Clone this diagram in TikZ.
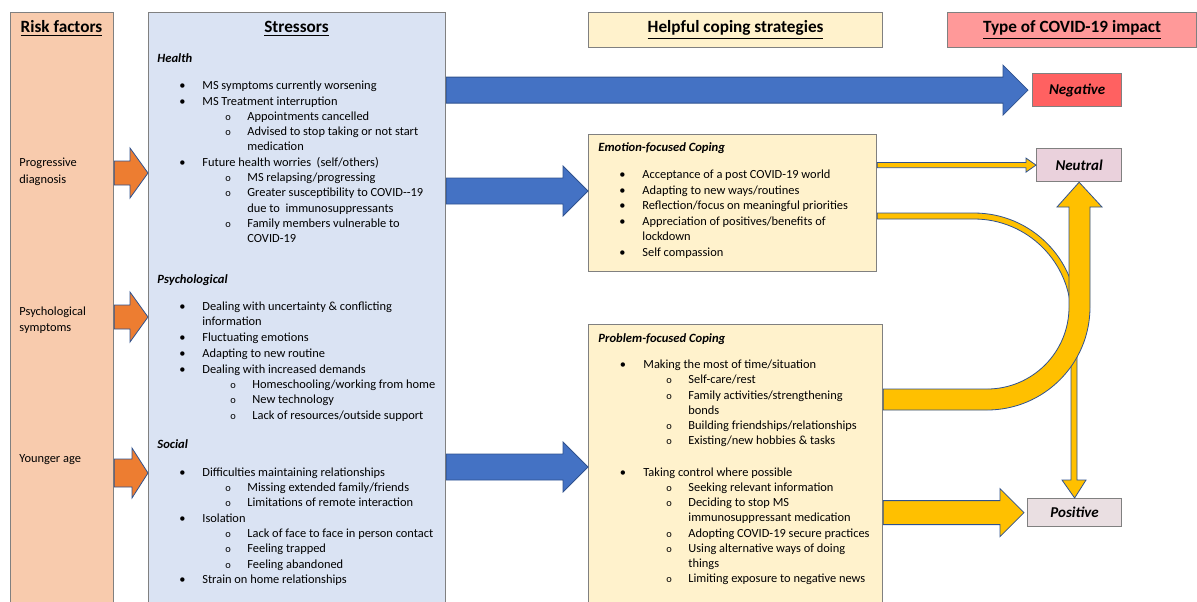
\documentclass[tikz,border=0pt]{standalone}
\usepackage{fontspec}
\setmainfont{Carlito}
\usetikzlibrary{calc}
\definecolor{riskc}{HTML}{F8CBAD}
\definecolor{stressc}{HTML}{DAE3F3}
\definecolor{copec}{HTML}{FFF2CC}
\definecolor{typec}{HTML}{FF9999}
\definecolor{negc}{HTML}{FF6161}
\definecolor{neutc}{HTML}{EAD1DC}
\definecolor{posc}{HTML}{EADFE2}
\definecolor{boxline}{HTML}{808080}
\definecolor{bluec}{HTML}{4472C4}
\definecolor{orangec}{HTML}{ED7D31}
\definecolor{yellowc}{HTML}{FFC000}
\definecolor{arrline}{HTML}{2F528F}

\newcounter{tl}
\newcommand\mytx[3]{\stepcounter{tl}\node[txt] (t\arabic{tl}) at (#1,#2) {#3};}
\newcommand\mybu[2]{\stepcounter{tl}\node[bul] (t\arabic{tl}) at (#1,#2) {\textbullet};}
\newcommand\myci[2]{\stepcounter{tl}\node[cir] (t\arabic{tl}) at (#1,#2) {o};}
\newcommand\StB[2]{\mybu{182.5}{#1}\mytx{202}{#1}{#2}}
\newcommand\StS[2]{\myci{228}{#1}\mytx{247}{#1}{#2}}
\newcommand\StP[2]{\myci{233}{#1}\mytx{252}{#1}{#2}}
\newcommand\EmB[2]{\mybu{622.5}{#1}\mytx{642}{#1}{#2}}
\newcommand\PrB[2]{\mybu{623}{#1}\mytx{643}{#1}{#2}}
\newcommand\PrS[2]{\myci{669}{#1}\mytx{688}{#1}{#2}}
% style, start, tip, body half, head half, head length
\newcommand\HArrow[6]{%
  \path[#1] let \p1=(#2), \p2=(#3) in
  (\x1,\y1+#4) -- (\x2-#6,\y1+#4) -- (\x2-#6,\y1+#5) -- (\x2,\y1) --
  (\x2-#6,\y1-#5) -- (\x2-#6,\y1-#4) -- (\x1,\y1-#4) -- cycle;}

\begin{document}
\begin{tikzpicture}[x=0.5pt,y=-0.5pt,
  txt/.style={anchor=mid west, inner sep=0pt, font=\fontsize{6.2}{7.5}\selectfont},
  bul/.style={anchor=mid, inner sep=0pt, font=\fontsize{6.2}{7.5}\selectfont},
  cir/.style={anchor=mid, inner sep=0pt, font=\fontsize{5.2}{6}\selectfont},
  hd/.style={anchor=mid west, inner sep=0pt, font=\fontsize{6.3}{7.5}\selectfont\bfseries\itshape},
  ttl/.style={anchor=mid, inner sep=0pt, font=\fontsize{8.6}{10}\selectfont\bfseries},
  outc/.style={font=\fontsize{7.5}{9}\selectfont\bfseries\itshape},
  box/.style={draw=boxline, line width=0.6pt, inner sep=0pt, anchor=north west},
  barrow/.style={fill=bluec, draw=arrline, line width=0.4pt},
  oarrow/.style={fill=orangec, draw=arrline, line width=0.4pt},
  yarrow/.style={fill=yellowc, draw=arrline, line width=0.4pt}]
\useasboundingbox (0,0) rectangle (1197,601);

% boxes
\node[box, fill=riskc, minimum width=51.5pt, minimum height=304pt] (risk) at (10,12) {};
\node[box, fill=stressc, minimum width=148.5pt, minimum height=304pt] (stress) at (148,12) {};
\node[box, fill=copec, minimum width=147pt, minimum height=17.5pt, ttl, anchor=north west] (help) at (588,12) {\underline{Helpful coping strategies}};
\node[box, fill=typec, minimum width=124.5pt, minimum height=17.5pt, ttl, anchor=north west] (type) at (947,12) {\underline{Type of COVID-19 impact}};
\node[box, fill=negc, minimum width=44.5pt, minimum height=16.5pt, outc] (neg) at (1032,73) {Negative};
\node[box, fill=copec, minimum width=144pt, minimum height=68.5pt] (emo) at (588,134) {};
\node[box, fill=copec, minimum width=147pt, minimum height=148pt] (prob) at (588,324) {};
\node[box, fill=neutc, minimum width=42.5pt, minimum height=16.5pt, outc] (neut) at (1036,148) {Neutral};
\node[box, fill=posc, minimum width=47pt, minimum height=14pt, outc] (pos) at (1027,498) {Positive};

% titles
\node[ttl] (risktitle) at (61.5,28) {\underline{Risk factors}};
\node[ttl] (stresstitle) at (296.5,28) {\underline{Stressors}};

% arrows
\HArrow{oarrow}{risk.east |- 0,173}{stress.west |- 0,173}{6pt}{12.5pt}{9pt}
\HArrow{oarrow}{risk.east |- 0,317}{stress.west |- 0,317}{6pt}{12.5pt}{9pt}
\HArrow{oarrow}{risk.east |- 0,473}{stress.west |- 0,473}{7pt}{12.5pt}{8pt}
\HArrow{barrow}{stress.east |- neg.west}{$(neg.west)+(-4,0)$}{6.5pt}{12.5pt}{12.5pt}
\HArrow{barrow}{stress.east |- 0,191}{emo.west |- 0,191}{6.5pt}{12.5pt}{12.5pt}
\HArrow{barrow}{stress.east |- 0,467}{prob.west |- 0,467}{6.5pt}{12.5pt}{12.5pt}
\HArrow{yarrow}{emo.east |- neut.west}{neut.west}{1.3pt}{3.5pt}{5pt}
\HArrow{yarrow}{prob.east |- pos.west}{$(pos.west)+(-3,0)$}{6pt}{12pt}{12pt}

% thin curved arrow (emotion -> positive)
\path[yarrow] (emo.east |- 0,213) -- (974,213) arc[start angle=90,end angle=0,radius=51.5pt]
  -- (1077,480) -- (1086,480) -- (pos.north) -- (1062,480) -- (1071,480) -- (1071,316)
  arc[start angle=0,end angle=90,radius=48.5pt] -- (emo.east |- 0,219) -- cycle;
% big curved arrow (problem -> neutral)
\path[yarrow] (prob.east |- 0,389) -- (987,389) arc[start angle=270,end angle=360,radius=41pt]
  -- (1069,207) -- (1057,207) -- (neut.south) -- (1102,207) -- (1090,207) -- (1090,307)
  arc[start angle=0,end angle=-90,radius=51.5pt] -- (prob.east |- 0,410) -- cycle;

% risk factor labels
\mytx{19}{162}{Progressive}
\mytx{19}{178.5}{diagnosis}
\mytx{19}{311}{Psychological}
\mytx{19}{327}{symptoms}
\mytx{19}{458}{Younger age}

% stressors
\node[hd] (hhealth) at (157,58) {Health};
\StB{85}{MS symptoms currently worsening}
\StB{100.5}{MS Treatment interruption}
\StS{116}{Appointments cancelled}
\StS{131}{Advised to stop taking or not start}
\mytx{247}{146}{medication}
\StB{162}{Future health worries\ \ (self/others)}
\StS{177}{MS relapsing/progressing}
\StS{192}{Greater susceptibility to COVID{-}{-}19}
\mytx{247}{208}{due to\ \ immunosuppressants}
\StS{222.5}{Family members vulnerable to}
\mytx{247}{238}{COVID-19}

\node[hd] (hpsych) at (157,279) {Psychological};
\StB{306}{Dealing with uncertainty \& conflicting}
\mytx{202}{321}{information}
\StB{337}{Fluctuating emotions}
\StB{352.5}{Adapting to new routine}
\StB{369}{Dealing with increased demands}
\StP{383.5}{Homeschooling/working from home}
\StP{399}{New technology}
\StP{414.5}{Lack of resources/outside support}

\node[hd] (hsocial) at (157,444) {Social};
\StB{472}{Difficulties maintaining relationships}
\StS{487}{Missing extended family/friends}
\StS{502}{Limitations of remote interaction}
\StB{518}{Isolation}
\StS{533}{Lack of face to face in person contact}
\StS{548}{Feeling trapped}
\StS{563.5}{Feeling abandoned}
\StB{579}{Strain on home relationships}

% emotion-focused
\node[hd] (hemo) at (598,147) {Emotion-focused Coping};
\EmB{173.5}{Acceptance of a post COVID-19 world}
\EmB{189.5}{Adapting to new ways/routines}
\EmB{205}{Reflection/focus on meaningful priorities}
\EmB{221}{Appreciation of positives/benefits of}
\mytx{642}{236}{lockdown}
\EmB{252}{Self compassion}

% problem-focused
\node[hd] (hprob) at (598,338) {Problem-focused Coping};
\PrB{364}{Making the most of time/situation}
\PrS{379}{Self-care/rest}
\PrS{394.5}{Family activities/strengthening}
\mytx{688}{409.5}{bonds}
\PrS{425}{Building friendships/relationships}
\PrS{440}{Existing/new hobbies \& tasks}
\PrB{472}{Taking control where possible}
\PrS{487}{Seeking relevant information}
\PrS{502}{Deciding to stop MS}
\mytx{688}{517}{immunosuppressant medication}
\PrS{532.5}{Adopting COVID-19 secure practices}
\PrS{547.5}{Using alternative ways of doing}
\mytx{688}{563}{things}
\PrS{578}{Limiting exposure to negative news}
\end{tikzpicture}
\end{document}
